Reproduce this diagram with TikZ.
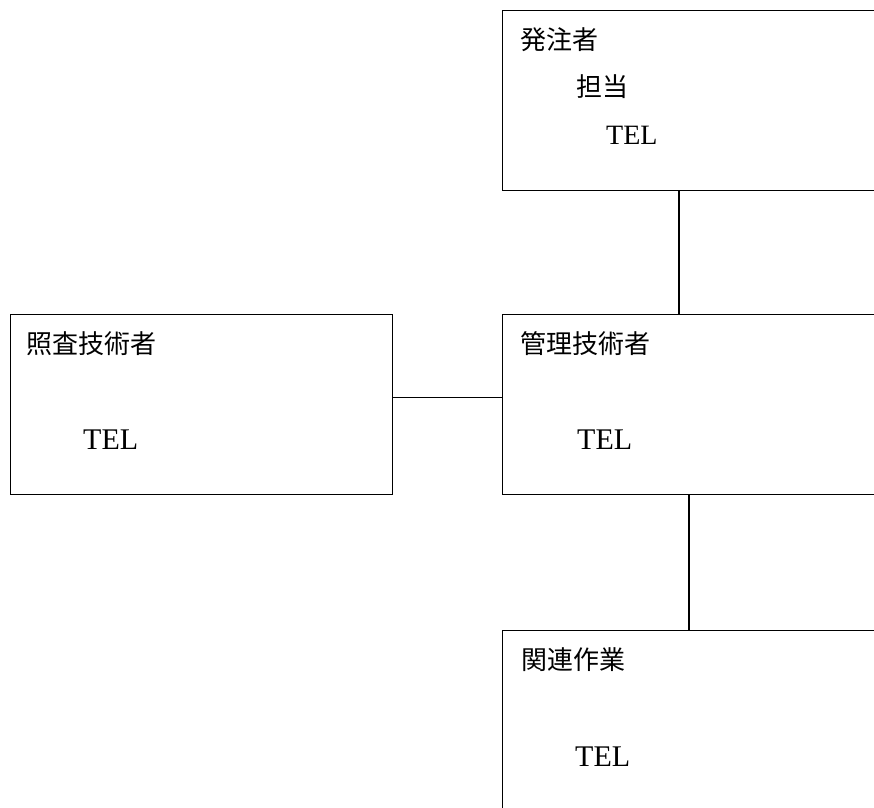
\documentclass[tikz,border=0pt]{standalone}
\usepackage{fontspec}
\newfontfamily\cjk{Noto Sans CJK JP}
\newfontfamily\telfont{Liberation Serif}
\begin{document}
\begin{tikzpicture}[x=1pt,y=-1pt,
  box/.style={draw=black, line width=1.3pt, rectangle, anchor=north west, inner sep=0pt},
  jlabel/.style={anchor=base west, inner sep=0pt, font=\cjk\fontsize{26}{30}\selectfont},
  tlabel/.style={anchor=base west, inner sep=0pt, font=\telfont\fontsize{30}{34}\selectfont},
  conn/.style={line width=1.3pt}]
\useasboundingbox (0,0) rectangle (874,807);
\clip (0,0) rectangle (874,807);
\fill[white] (0,0) rectangle (874,807);
\node[box, minimum width=420pt, minimum height=180pt] (hatchu) at (502,10) {};
\node[box, minimum width=382pt, minimum height=180pt] (shousa) at (10,314) {};
\node[box, minimum width=420pt, minimum height=180pt] (kanri) at (502,314) {};
\node[box, minimum width=420pt, minimum height=260pt] (kanren) at (502,630) {};
\draw[conn] ([xshift=177pt]hatchu.south west) -- ([xshift=177pt]kanri.north west);
\draw[conn] ([yshift=7pt]shousa.east) -- ([yshift=7pt]shousa.east -| kanri.west);
\draw[conn] ([xshift=187pt]kanri.south west) -- ([xshift=187pt]kanren.north west);
\node[jlabel] (t1) at (520,49) {発注者};
\node[jlabel] (t2) at (576,96) {担当};
\node[tlabel, font=\telfont\fontsize{28}{32}\selectfont] (t3) at (606,144) {TEL};
\node[jlabel] (t4) at (26,353) {照査技術者};
\node[tlabel] (t5) at (83,449) {TEL};
\node[jlabel] (t6) at (520,353) {管理技術者};
\node[tlabel] (t7) at (577,449) {TEL};
\node[jlabel] (t8) at (521,669) {関連作業};
\node[tlabel] (t9) at (575,766) {TEL};
\end{tikzpicture}
\end{document}
